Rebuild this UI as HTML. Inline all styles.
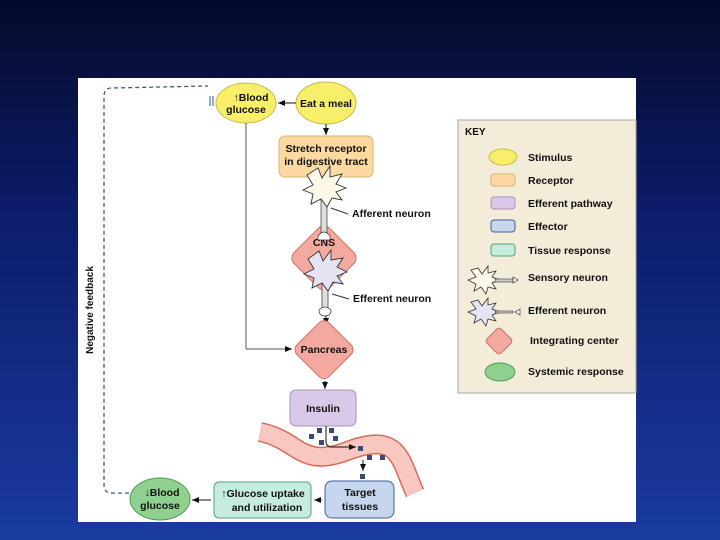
<!DOCTYPE html>
<html><head><style>
body{margin:0;width:720px;height:540px;overflow:hidden;background:linear-gradient(180deg,#050a2a 0%,#0c1d6a 40%,#1a3ba0 100%);font-family:"Liberation Sans",sans-serif;}
svg{position:absolute;left:0;top:0}
text{font-family:"Liberation Sans",sans-serif;font-weight:bold;fill:#111}
</style></head><body>
<svg width="720" height="540" viewBox="0 0 720 540">
<defs><marker id="a" markerWidth="8" markerHeight="8" refX="7" refY="4" orient="auto" markerUnits="userSpaceOnUse"><path d="M0,1 L7,4 L0,7z" fill="#111"/></marker></defs>
<rect x="78" y="78" width="558" height="444" fill="#fff"/>
<!-- key -->
<rect x="458" y="120" width="178" height="273" fill="#f3ecd8" stroke="#aaa"/>
<text x="465" y="135" font-size="10">KEY</text>
<ellipse cx="503" cy="157" rx="14" ry="8" fill="#f7ef6a" stroke="#c9b94a"/>
<rect x="491" y="174" width="24" height="12" rx="3" fill="#fbd9a0" stroke="#d9b070"/>
<rect x="491" y="197" width="24" height="12" rx="3" fill="#d9c9e9" stroke="#a890c0"/>
<rect x="491" y="220" width="24" height="12" rx="3" fill="#c6d6ee" stroke="#40609a"/>
<rect x="491" y="244" width="24" height="12" rx="3" fill="#c6ecdc" stroke="#50a080"/>
<g font-size="10.5"><text x="528" y="161">Stimulus</text><text x="528" y="184">Receptor</text><text x="528" y="207">Efferent pathway</text><text x="528" y="230">Effector</text><text x="528" y="254">Tissue response</text><text x="528" y="281">Sensory neuron</text><text x="528" y="314">Efferent neuron</text><text x="530" y="344">Integrating center</text><text x="528" y="375">Systemic response</text></g>
<polygon points="478,268 482,274 488,266 488,273 496,271 492,277 500,280 492,283 496,289 488,287 486,294 481,287 474,291 476,284 468,280 476,277 471,270" fill="#fdf8e8" stroke="#333" stroke-width="0.8"/>
<rect x="495" y="279" width="18" height="3" fill="#ccc" stroke="#333" stroke-width="0.6"/><path d="M513,277 l5,3 l-5,3z" fill="#fff" stroke="#333" stroke-width="0.7"/>
<polygon points="478,300 482,306 488,298 488,305 496,303 492,309 500,312 492,315 496,321 488,319 486,326 481,319 474,323 476,316 468,312 476,309 471,302" fill="#e6e3f3" stroke="#333" stroke-width="0.8"/>
<rect x="495" y="311" width="18" height="2" fill="#ccc" stroke="#333" stroke-width="0.6"/><path d="M520,309 l-5,3 l5,3z" fill="#fff" stroke="#333" stroke-width="0.7"/>
<rect x="489" y="331" width="20" height="20" rx="3" transform="rotate(45 499 341)" fill="#f4a9a0" stroke="#d07060"/>
<ellipse cx="500" cy="372" rx="15" ry="9" fill="#8fd08f" stroke="#50a050"/>
<!-- dashed feedback -->
<path d="M129,493 L112,493 Q104,493 104,485 L104,96 Q104,88 112,88 L208,86" fill="none" stroke="#3a5a8a" stroke-width="1.3" stroke-dasharray="4,3"/>
<text transform="translate(93,310) rotate(-90)" font-size="10" text-anchor="middle">Negative feedback</text>
<path d="M210,96 v10 M213,96 v10" stroke="#4a7ab0" stroke-width="1.2"/>
<!-- top -->
<ellipse cx="246" cy="103" rx="30" ry="20" fill="#f7ef6a" stroke="#c9b94a"/>
<text x="251" y="101" font-size="10.5" text-anchor="middle">↑Blood</text><text x="246" y="113" font-size="10.5" text-anchor="middle">glucose</text>
<ellipse cx="326" cy="103" rx="30" ry="21" fill="#f7ef6a" stroke="#c9b94a"/>
<text x="326" y="107" font-size="10.5" text-anchor="middle">Eat a meal</text>
<line x1="296" y1="103" x2="278" y2="103" stroke="#111" marker-end="url(#a)"/>
<line x1="326" y1="124" x2="326" y2="135" stroke="#111" marker-end="url(#a)"/>
<rect x="279" y="136" width="94" height="41" rx="6" fill="#fbd9a0" stroke="#d9b070"/>
<text x="326" y="152" font-size="10.5" text-anchor="middle">Stretch receptor</text><text x="326" y="165" font-size="10.5" text-anchor="middle">in digestive tract</text>
<line x1="246" y1="123" x2="246" y2="349" stroke="#555"/>
<line x1="246" y1="349" x2="292" y2="349" stroke="#555" marker-end="url(#a)"/>
<!-- CNS -->
<rect x="299" y="233" width="50" height="50" rx="8" transform="rotate(45 324 258)" fill="#f4a9a0" stroke="#d07060"/>
<text x="324" y="246" font-size="10.5" text-anchor="middle">CNS</text>
<rect x="321" y="200" width="6" height="34" fill="#ddd" stroke="#333" stroke-width="0.7"/>
<path d="M318,236 q6,-8 12,0 v4 h-12z" fill="#fff" stroke="#333" stroke-width="0.7"/>
<polygon points="318,168 322,178 330,166 330,177 342,174 336,184 346,188 336,192 342,200 332,198 327,207 321,199 311,204 313,194 303,190 313,185 307,175" fill="#fdf8e8" stroke="#333" stroke-width="0.9"/>
<rect x="322" y="283" width="6" height="28" fill="#ddd" stroke="#333" stroke-width="0.7"/>
<polygon points="319,251 323,261 331,250 331,260 343,258 337,267 347,272 337,276 343,284 333,282 328,291 322,283 312,288 314,278 304,274 314,269 308,259" fill="#e6e3f3" stroke="#333" stroke-width="0.9"/>
<path d="M319,310 q6,-6 12,0 q0,6 -6,6 q-6,0 -6,-6z" fill="#fff" stroke="#333" stroke-width="0.7"/>
<line x1="326" y1="316" x2="326" y2="325" stroke="#111" marker-end="url(#a)"/>
<text x="352" y="217" font-size="10.5">Afferent neuron</text><line x1="331" y1="208" x2="348" y2="214" stroke="#333"/>
<text x="353" y="302" font-size="10.5">Efferent neuron</text><line x1="332" y1="294" x2="349" y2="299" stroke="#333"/>
<!-- pancreas -->
<rect x="302" y="327" width="45" height="45" rx="7" transform="rotate(45 324 349)" fill="#f4a9a0" stroke="#d07060"/>
<text x="324" y="353" font-size="10.5" text-anchor="middle">Pancreas</text>
<line x1="325" y1="381" x2="325" y2="389" stroke="#111" marker-end="url(#a)"/>
<rect x="290" y="390" width="66" height="36" rx="6" fill="#d9c9e9" stroke="#a890c0"/>
<text x="323" y="412" font-size="10.5" text-anchor="middle">Insulin</text>
<!-- vessel -->
<path d="M260,432 C300,440 300,470 350,450 C400,432 400,460 415,493" fill="none" stroke="#d86a5a" stroke-width="20"/>
<path d="M260,432 C300,440 300,470 350,450 C400,432 400,460 415,493" fill="none" stroke="#f8c8c0" stroke-width="17"/>
<g fill="#3a4a70"><rect x="309" y="434" width="5" height="5"/><rect x="317" y="428" width="5" height="5"/><rect x="329" y="428" width="5" height="5"/><rect x="333" y="436" width="5" height="5"/><rect x="319" y="440" width="5" height="5"/><rect x="358" y="446" width="5" height="5"/><rect x="367" y="455" width="5" height="5"/><rect x="380" y="455" width="5" height="5"/><rect x="360" y="474" width="5" height="5"/></g>
<path d="M326,426 v15 q0,6 6,6 h24" fill="none" stroke="#111" marker-end="url(#a)"/>
<line x1="363" y1="460" x2="363" y2="471" stroke="#111" marker-end="url(#a)"/>
<!-- bottom -->
<rect x="325" y="481" width="69" height="37" rx="7" fill="#c6d6ee" stroke="#40609a"/>
<text x="360" y="496" font-size="10.5" text-anchor="middle">Target</text><text x="360" y="510" font-size="10.5" text-anchor="middle">tissues</text>
<line x1="323" y1="500" x2="314" y2="500" stroke="#999" marker-end="url(#a)"/>
<rect x="214" y="482" width="97" height="36" rx="5" fill="#c6ecdc" stroke="#50a080"/>
<text x="263" y="497" font-size="10.5" text-anchor="middle">↑Glucose uptake</text><text x="267" y="511" font-size="10.5" text-anchor="middle">and utilization</text>
<line x1="211" y1="500" x2="192" y2="500" stroke="#111" marker-end="url(#a)"/>
<ellipse cx="160" cy="499" rx="30" ry="21" fill="#8fd08f" stroke="#50a050"/>
<text x="162" y="496" font-size="10.5" text-anchor="middle">↓Blood</text><text x="160" y="509" font-size="10.5" text-anchor="middle">glucose</text>
</svg>
</body></html>
